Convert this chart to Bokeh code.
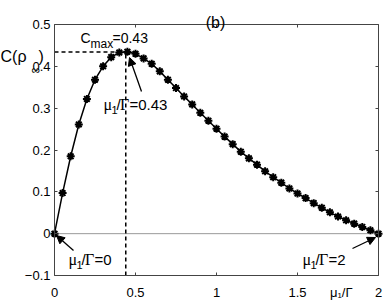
from bokeh.plotting import figure
from bokeh.models import (Range1d, LinearAxis, Label, Arrow, NormalHead,
                          FixedTicker, ColumnDataSource)
from bokeh.embed import file_html
from bokeh.resources import INLINE

# ---------------- data ----------------
mu_ratio = [0.00, 0.05, 0.10, 0.15, 0.20, 0.25, 0.30, 0.35, 0.40, 0.45,
            0.50, 0.55, 0.60, 0.65, 0.70, 0.75, 0.80, 0.85, 0.90, 0.95,
            1.00, 1.05, 1.10, 1.15, 1.20, 1.25, 1.30, 1.35, 1.40, 1.45,
            1.50, 1.55, 1.60, 1.65, 1.70, 1.75, 1.80, 1.85, 1.90, 1.95, 2.00]
concurrence = [0.000, 0.097, 0.185, 0.261, 0.322, 0.368, 0.400, 0.422, 0.433, 0.435,
               0.430, 0.419, 0.406, 0.388, 0.368, 0.348, 0.328, 0.309, 0.289, 0.270,
               0.251, 0.232, 0.214, 0.196, 0.180, 0.165, 0.149, 0.135, 0.122, 0.108,
               0.096, 0.085, 0.073, 0.062, 0.051, 0.041, 0.032, 0.024, 0.016, 0.008, 0.000]
peak_x = [0.44]
peak_y = [0.434]
x_ticks = [0, 0.5, 1, 1.5, 2]
x_tick_labels = ["0", "0.5", "1", "1.5", "2"]
x_axis_title = "\u03bc\u2081/\u0393"
x_axis_title_at = 1.77
y_ticks = [-0.1, 0, 0.1, 0.2, 0.3, 0.4, 0.5]
y_tick_labels = ["\u22120.1", "0", "0.1", "0.2", "0.3", "0.4", "0.5"]

# ---------------- geometry ----------------
W, H = 388, 305
BOX_L, BOX_R, BOX_T, BOX_B = 54, 378, 24, 275     # axes box on the canvas (px)
FRAME_B = 284                                      # frame bottom (px)
XMIN, XMAX = x_ticks[0], x_ticks[-1]
YMIN, YMAX = y_ticks[0], y_ticks[-1]
SX = (BOX_R - BOX_L) / (XMAX - XMIN)
SY = (BOX_B - BOX_T) / (YMAX - YMIN)
X0 = XMIN - BOX_L / SX
X1 = XMAX + (W - BOX_R) / SX
Y0 = YMIN - (FRAME_B - BOX_B) / SY
Y1 = YMAX + BOX_T / SY

def X(px):   # canvas pixel -> data x
    return X0 + px / SX

def Y(py):   # canvas pixel -> data y
    return Y1 - py / SY

SANS = "Liberation Sans"
SERIF = "Liberation Serif"
AX = "#444444"

p = figure(width=W, height=H, x_range=Range1d(X0, X1), y_range=Range1d(Y0, Y1),
           output_backend="svg", toolbar_location=None,
           min_border=0, min_border_left=0, min_border_right=0,
           min_border_top=0, min_border_bottom=H - FRAME_B,
           x_axis_location=None, y_axis_location=None,
           background_fill_color="white", border_fill_color="white")
p.xgrid.visible = False
p.ygrid.visible = False
p.outline_line_color = None

xt = FixedTicker(ticks=x_ticks)
yt = FixedTicker(ticks=y_ticks)

def style(ax, labels, standoff):
    ax.axis_line_color = AX
    ax.major_tick_line_color = AX
    ax.minor_tick_line_color = None
    ax.major_tick_in = 3
    ax.major_tick_out = 0
    ax.major_label_text_font = SANS
    ax.major_label_text_font_size = "13px"
    ax.major_label_standoff = standoff
    if labels is None:
        ax.major_label_text_color = None
    else:
        ax.major_label_text_color = "black"
        ax.major_label_overrides = labels

# bottom tick labels: a regular side-panel axis (labels only)
bottom_labels = {t: s for t, s in zip(x_ticks, x_tick_labels)}
bottom_labels[x_axis_title_at] = x_axis_title
bottom = LinearAxis(ticker=FixedTicker(ticks=x_ticks + [x_axis_title_at]), bounds=(XMIN, XMAX))
style(bottom, bottom_labels, 0)
bottom.axis_line_color = None
bottom.major_tick_line_color = None
bottom.major_tick_in = 0
p.add_layout(bottom, "below")

# box edges: axes pinned inside the frame
def pinned(side, ticker, loc, bounds, labels, standoff):
    ax = LinearAxis(ticker=ticker, fixed_location=loc, bounds=bounds)
    style(ax, labels, standoff)
    p.add_layout(ax, side)

pinned("left", yt, XMIN, (YMIN, YMAX), {t: s for t, s in zip(y_ticks, y_tick_labels)}, 4)
pinned("below", xt, YMIN, (XMIN, XMAX), None, 0)
pinned("above", xt, YMAX, (XMIN, XMAX), None, 0)
pinned("right", yt, XMAX, (YMIN, YMAX), None, 0)

# zero line
p.line([XMIN, XMAX], [0, 0], line_color="#999999", line_width=1)

# dashed guides to the maximum
p.line([XMIN, peak_x[0]], [peak_y[0], peak_y[0]], line_color="black", line_width=1.5, line_dash="4 3")
p.line([peak_x[0], peak_x[0]], [YMIN, peak_y[0]], line_color="black", line_width=1.5, line_dash="4 3")

src = ColumnDataSource(dict(x=mu_ratio, y=concurrence))
p.line("x", "y", source=src, line_color="black", line_width=1.5)
p.scatter("x", "y", source=src, marker="asterisk", size=8, line_color="black", line_width=2)

def lab(px, py, text, size, font=SANS, align="left"):
    p.add_layout(Label(x=X(px), y=Y(py), text=text, text_font=font,
                       text_font_size=f"{size}px", text_align=align,
                       text_baseline="alphabetic", text_color="black"))

def mu_gamma(px, py, tail, size=15):
    lab(px, py, "\u03bc", size + 1, SERIF)
    lab(px + 8, py + 5, "1", size - 4)
    lab(px + 13, py, "/", size)
    lab(px + 16.5, py, "\u0393", size + 1, SERIF)
    if tail:
        lab(px + 26, py, tail, size)

# title
lab(215, 22, "(b)", 16, align="center")
# y label C(rho_inf)
lab(0, 56, "C(\u03c1", 16)
lab(31, 69, "\u221e", 12)
lab(38, 56, ")", 16)

# C_max annotation
lab(80, 37, "C", 14)
lab(90, 43, "max", 12)
lab(112, 37, "=0.43", 14)

# mu/Gamma annotations
mu_gamma(103, 104, "=0.43")
mu_gamma(68, 259, "=0")
mu_gamma(302, 259, "=2")

def arrow(x0, y0, x1, y1):
    p.add_layout(Arrow(end=NormalHead(size=8, fill_color="black", line_color="black"),
                       x_start=X(x0), y_start=Y(y0), x_end=X(x1), y_end=Y(y1),
                       line_color="black", line_width=1.3))

arrow(141, 91, 129, 57)
arrow(73, 250, 56, 235)
arrow(352, 248, 375, 237)

open("out.html", "w").write(file_html(p, INLINE))
